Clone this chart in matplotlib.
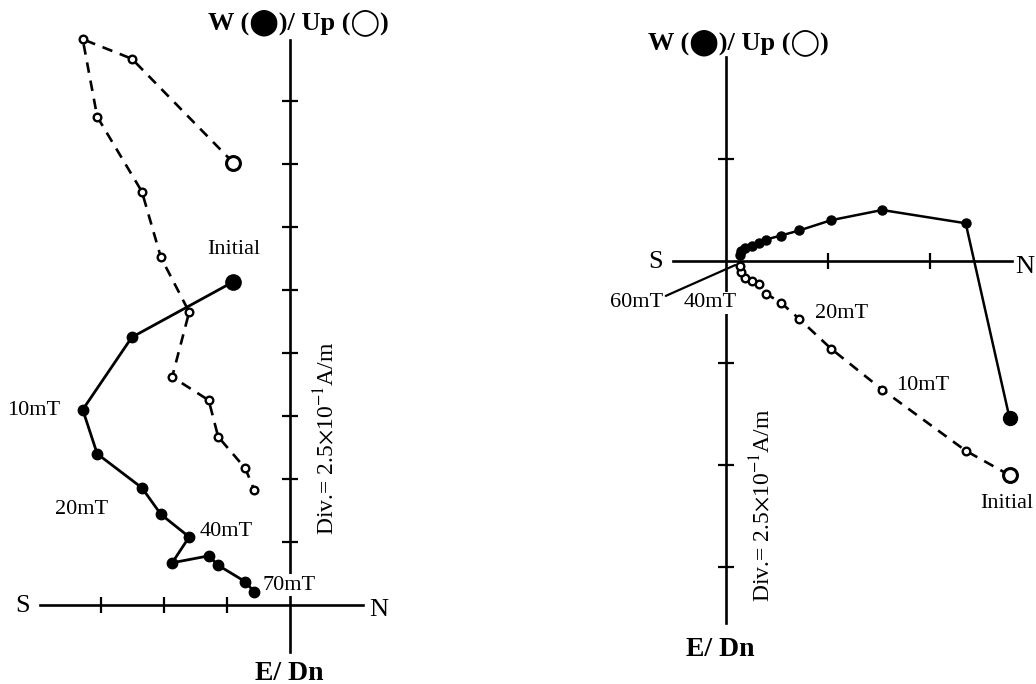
import matplotlib
matplotlib.use("Agg")
import matplotlib.pyplot as plt

plt.rcParams['font.family'] = ['Liberation Serif', 'DejaVu Sans']
plt.rcParams['mathtext.fontset'] = 'stix'

# Left sample: N/S component shared, W (filled) and Up (open), in divisions
left_n = [-0.90, -2.51, -3.29, -3.06, -2.35, -2.05, -1.60, -1.87, -1.29, -1.14, -0.71, -0.57]
left_w = [5.13, 4.25, 3.10, 2.40, 1.86, 1.44, 1.08, 0.67, 0.78, 0.63, 0.37, 0.21]
left_up = [7.02, 8.67, 8.98, 7.75, 6.56, 5.52, 4.65, 3.62, 3.25, 2.67, 2.17, 1.83]

# Right sample
right_n = [2.78, 2.35, 1.53, 1.03, 0.72, 0.54, 0.39, 0.32, 0.25, 0.19, 0.15, 0.14]
right_w = [-1.54, 0.37, 0.50, 0.40, 0.30, 0.25, 0.21, 0.18, 0.15, 0.13, 0.10, 0.06]
right_up = [-2.10, -1.86, -1.26, -0.86, -0.57, -0.41, -0.32, -0.23, -0.20, -0.17, -0.11, -0.05]

W, H = 1036, 684


def fx(x):
    return x / W


def fy(y):
    return 1 - y / H


fig = plt.figure(figsize=(10.36, 6.84), dpi=100)

# axes placed so that 1 division = 63 px (left) and 102 px (right)
ax1 = fig.add_axes([fx(40), fy(652), 323 / W, 612 / H])
ax1.set_xlim(-3.968, 1.159)
ax1.set_ylim(-0.746, 8.968)
ax1.set_xticks([-3, -2, -1])
ax1.set_yticks([1, 2, 3, 4, 5, 6, 7, 8])

ax2 = fig.add_axes([fx(673), fy(623), 339 / W, 566 / H])
ax2.set_xlim(-0.52, 2.804)
ax2.set_ylim(-3.549, 2.0)
ax2.set_xticks([1, 2])
ax2.set_yticks([-3, -2, -1, 1])

for ax in (ax1, ax2):
    ax.patch.set_visible(False)
    for s in ('top', 'right'):
        ax.spines[s].set_visible(False)
    for s in ('left', 'bottom'):
        ax.spines[s].set_position(('data', 0))
        ax.spines[s].set_linewidth(1.9)
        ax.spines[s].set_zorder(1)
    ax.tick_params(direction='inout', length=12, width=1.6,
                   labelbottom=False, labelleft=False)

# left panel data
ax1.plot(left_n, left_up, color='black', lw=1.9, dashes=(4, 3),
         marker='o', ms=5.5, mfc='white', mec='black', mew=1.7,
         clip_on=False, zorder=3)
ax1.plot(left_n[:1], left_up[:1], 'o', ms=10, mfc='white', mec='black',
         mew=2.2, clip_on=False, zorder=4)
ax1.plot(left_n, left_w, color='black', lw=2.0, marker='o', ms=7.5,
         mfc='black', mec='black', clip_on=False, zorder=3)
ax1.plot(left_n[:1], left_w[:1], 'o', ms=11, color='black',
         clip_on=False, zorder=4)

# right panel data
ax2.plot(right_n, right_up, color='black', lw=1.9, dashes=(4, 3),
         marker='o', ms=5.5, mfc='white', mec='black', mew=1.7,
         clip_on=False, zorder=3)
ax2.plot(right_n[:1], right_up[:1], 'o', ms=10, mfc='white', mec='black',
         mew=2.2, clip_on=False, zorder=4)
ax2.plot(right_n, right_w, color='black', lw=1.8, marker='o', ms=6.5,
         mfc='black', mec='black', clip_on=False, zorder=3)
ax2.plot(right_n[:1], right_w[:1], 'o', ms=10, color='black',
         clip_on=False, zorder=4)

title = 'W (\u2B24)/ Up (\u25EF)'
white = dict(facecolor='white', edgecolor='none', pad=1)
lab = 16

# left panel text
fig.text(fx(298), fy(23), title, ha='center', va='center', fontsize=19,
         fontweight='bold')
fig.text(fx(289), fy(673), 'E/ Dn', ha='center', va='center', fontsize=20,
         fontweight='bold')
fig.text(fx(23), fy(606), 'S', ha='center', va='center', fontsize=19)
fig.text(fx(379), fy(610), 'N', ha='center', va='center', fontsize=19)
fig.text(fx(326), fy(438), r'Div.= 2.5$\times$10$^{-1}$A/m', ha='center',
         va='center', rotation=90, fontsize=17)
fig.text(fx(234), fy(250), 'Initial', ha='center', va='center', fontsize=lab)
fig.text(fx(34), fy(410), '10mT', ha='center', va='center', fontsize=lab)
fig.text(fx(82), fy(510), '20mT', ha='center', va='center', fontsize=lab)
fig.text(fx(200), fy(532), '40mT', ha='left', va='center', fontsize=lab)
fig.text(fx(263), fy(585), '70mT', ha='left', va='center', fontsize=lab,
         bbox=white, zorder=5)

# right panel text
fig.text(fx(738), fy(43), title, ha='center', va='center', fontsize=19,
         fontweight='bold')
fig.text(fx(720), fy(650), 'E/ Dn', ha='center', va='center', fontsize=20,
         fontweight='bold')
fig.text(fx(656), fy(262), 'S', ha='center', va='center', fontsize=19)
fig.text(fx(1025), fy(267), 'N', ha='center', va='center', fontsize=19)
fig.text(fx(762), fy(505), r'Div.= 2.5$\times$10$^{-1}$A/m', ha='center',
         va='center', rotation=90, fontsize=17)
fig.text(fx(710), fy(303), '40mT', ha='center', va='center', fontsize=lab,
         bbox=white, zorder=5)
fig.text(fx(842), fy(313), '20mT', ha='center', va='center', fontsize=lab)
fig.text(fx(923), fy(385), '10mT', ha='center', va='center', fontsize=lab)
fig.text(fx(1007), fy(503), 'Initial', ha='center', va='center', fontsize=lab)
ax2.annotate('60mT', xy=(0.09, -0.04), xytext=(-0.618, -0.41),
             ha='right', va='center', fontsize=lab,
             arrowprops=dict(arrowstyle='-', lw=1.6, color='black',
                             shrinkA=0, shrinkB=0,
                             relpos=(1.0, 0.8)),
             annotation_clip=False)

plt.savefig("out.png", dpi=100)
